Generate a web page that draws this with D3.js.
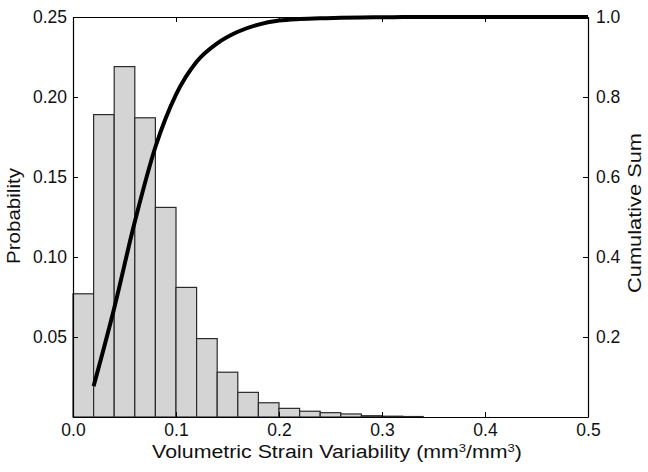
<!DOCTYPE html>
<html>
<head>
<meta charset="utf-8">
<script src="https://cdn.jsdelivr.net/npm/d3@7"></script>
<style>
  html, body { margin: 0; padding: 0; background: #fff; }
  svg { display: block; font-family: "Liberation Sans", Arial, sans-serif; }
</style>
</head>
<body>
<svg id="chart" width="648" height="472"></svg>
<script>
// histogram bins (width 0.02), probability per bin
const binStarts = [0.00, 0.02, 0.04, 0.06, 0.08, 0.10, 0.12, 0.14, 0.16, 0.18, 0.20, 0.22, 0.24, 0.26, 0.28, 0.30, 0.32];
const binWidth = 0.02;
const probability = [0.077, 0.189, 0.219, 0.187, 0.131, 0.081, 0.049, 0.028, 0.0154, 0.0089, 0.0054, 0.0036, 0.0027, 0.0019, 0.0008, 0.0005, 0.0003];

// cumulative sum curve
const cumX = [0.02, 0.04, 0.06, 0.08, 0.10, 0.12, 0.14, 0.16, 0.18, 0.20, 0.22, 0.24, 0.26, 0.28, 0.30, 0.32, 0.34, 0.50];
const cumY = [0.077, 0.272, 0.488, 0.675, 0.806, 0.888, 0.934, 0.963, 0.981, 0.991, 0.995, 0.997, 0.998, 0.999, 0.9995, 0.9998, 1.0, 1.0];

const xTicks = [0, 0.1, 0.2, 0.3, 0.4, 0.5];
const yLeftTicks = [0.05, 0.10, 0.15, 0.20, 0.25];
const yRightTicks = [0.2, 0.4, 0.6, 0.8, 1.0];

const margin = { top: 17, right: 60, bottom: 55, left: 73 };
const width = 648 - margin.left - margin.right;
const height = 472 - margin.top - margin.bottom;

const svg = d3.select("#chart");
const chart = svg.append("g").attr("transform", `translate(${margin.left},${margin.top})`);

const x = d3.scaleLinear().domain([0, 0.5]).range([0, width]);
const yL = d3.scaleLinear().domain([0, 0.25]).range([height, 0]);
const yR = d3.scaleLinear().domain([0, 1]).range([height, 0]);

// bars
chart.append("g")
  .selectAll("rect")
  .data(binStarts.map((s, i) => ({ s, p: probability[i] })))
  .join("rect")
  .attr("x", (d) => x(d.s))
  .attr("y", (d) => yL(d.p))
  .attr("width", (d) => x(d.s + binWidth) - x(d.s))
  .attr("height", (d) => yL(0) - yL(d.p))
  .attr("fill", "#d4d4d4")
  .attr("stroke", "#2a2a2a")
  .attr("stroke-width", 1.2);

// cumulative line
const line = d3.line()
  .x((d) => x(d[0]))
  .y((d) => yR(d[1]))
  .curve(d3.curveMonotoneX);

chart.append("path")
  .datum(cumX.map((v, i) => [v, cumY[i]]))
  .attr("d", line)
  .attr("fill", "none")
  .attr("stroke", "#000")
  .attr("stroke-width", 4)
  .attr("stroke-linejoin", "round");

const styleAxis = (g, size) => {
  g.select(".domain").attr("stroke", "#000").attr("stroke-width", 1.2);
  g.selectAll(".tick line").attr("stroke", "#000");
  g.selectAll(".tick text").attr("fill", "#111").style("font-size", size + "px").style("font-family", "'Liberation Sans', Arial, sans-serif");
};

chart.append("g")
  .attr("transform", `translate(0,${height})`)
  .call(d3.axisBottom(x).tickValues(xTicks).tickFormat(d3.format(".1f")).tickSizeInner(-5).tickSizeOuter(0).tickPadding(7))
  .call((g) => styleAxis(g, 17.5));

chart.append("g")
  .call(d3.axisTop(x).tickValues(xTicks).tickFormat("").tickSizeInner(-5).tickSizeOuter(0))
  .call((g) => styleAxis(g, 17.5));

chart.append("g")
  .call(d3.axisLeft(yL).tickValues(yLeftTicks).tickFormat(d3.format(".2f")).tickSizeInner(-5).tickSizeOuter(0).tickPadding(6))
  .call((g) => styleAxis(g, 17.5));

chart.append("g")
  .attr("transform", `translate(${width},0)`)
  .call(d3.axisRight(yR).tickValues(yRightTicks).tickFormat(d3.format(".1f")).tickSizeInner(-5).tickSizeOuter(0).tickPadding(8))
  .call((g) => styleAxis(g, 17.5));

// axis titles, stretched to the widths seen in the picture
const addTitle = (cx, cy, rot, target, build) => {
  const g = svg.append("g");
  const t = g.append("text")
    .attr("text-anchor", "middle")
    .attr("fill", "#111")
    .style("font-size", "18px");
  build(t);
  const w = t.node().getComputedTextLength();
  const sx = target / w;
  g.attr("transform", `translate(${cx},${cy}) rotate(${rot}) scale(${sx},1)`);
};

addTitle(337, 458, 0, 370, (t) => {
  t.append("tspan").text("Volumetric Strain Variability (mm");
  t.append("tspan").attr("baseline-shift", "super").style("font-size", "11px").text("3");
  t.append("tspan").text("/mm");
  t.append("tspan").attr("baseline-shift", "super").style("font-size", "11px").text("3");
  t.append("tspan").text(")");
});

addTitle(20, 216, -90, 96, (t) => t.text("Probability"));
addTitle(641, 213, -90, 160, (t) => t.text("Cumulative Sum"));
</script>
</body>
</html>
